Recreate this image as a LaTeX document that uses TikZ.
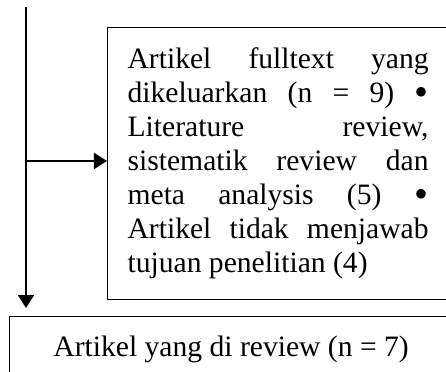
\documentclass[tikz,border=0pt]{standalone}
\usepackage{fontspec}
\usepackage{graphicx}
\setmainfont{Liberation Serif}
\usetikzlibrary{arrows.meta}
\tolerance=10000
\hbadness=10000
\newcommand{\bigbul}{\raisebox{-0.08em}{\scalebox{1.35}{•}}}

\begin{document}
\begin{tikzpicture}[x=0.5pt,y=-0.5pt,
	exbox/.style={rectangle, draw=black, line width=0.6pt, inner xsep=10pt, inner ysep=0pt, text width=150.5pt, minimum height=136pt, align=justify, anchor=north west, font=\fontsize{14.8pt}{17pt}\selectfont},
	revbox/.style={rectangle, draw=black, line width=0.6pt, minimum width=221.5pt, minimum height=32.4pt, anchor=north west, font=\fontsize{14.8pt}{17pt}\selectfont},
	flow/.style={line width=0.9pt, -{Triangle[length=6.5pt,width=8pt]}}]
	\useasboundingbox (0,0) rectangle (446,371);
	\clip (0,0) rectangle (446,371);

	%excluded articles
	\node[exbox] at (107,27) (excl) {Artikel fulltext yang\linebreak dikeluarkan (n = 9) \bigbul\linebreak Literature review,\linebreak sistematik review dan\linebreak meta analysis (5) \bigbul\linebreak Artikel tidak menjawab\linebreak tujuan penelitian (4)};
	%reviewed articles
	\node[revbox] at (9,316) (rev) {Artikel yang di review (n = 7)};

	%flow lines
	\coordinate (src) at (26,7);
	\coordinate (tip) at (26,308);
	\coordinate (branch) at (26,161);
	\draw[flow] (src) -- (tip);
	\draw[flow] (branch) -- (branch -| excl.west);
\end{tikzpicture}
\end{document}
